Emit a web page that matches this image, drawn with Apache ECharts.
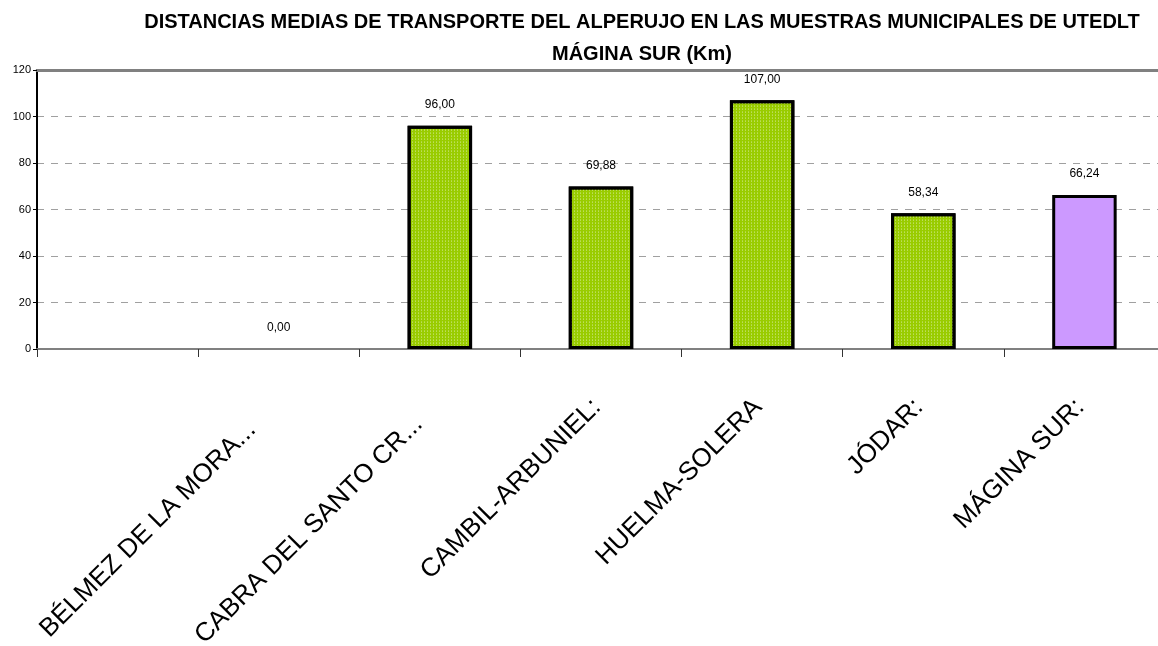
<!DOCTYPE html>
<html>
<head>
<meta charset="utf-8">
<script src="https://cdn.jsdelivr.net/npm/echarts@6/dist/echarts.min.js"></script>
<style>
html,body{margin:0;padding:0;background:#fff;}
#c{width:1158px;height:646px;}
</style>
</head>
<body>
<div id="c"></div>
<script>
const titleLines = ["DISTANCIAS MEDIAS DE TRANSPORTE DEL ALPERUJO EN LAS MUESTRAS MUNICIPALES DE UTEDLT", "MÁGINA SUR (Km)"];
const categories = ["", "BÉLMEZ DE LA MORA...", "CABRA DEL SANTO CR...", "CAMBIL-ARBUNIEL:", "HUELMA-SOLERA", "JÓDAR:", "MÁGINA SUR:"];
const values = [null, 0.00, 96.00, 69.88, 107.00, 58.34, 66.24];
const yMin = 0, yMax = 120, yStep = 20;

// styling (not data)
const green = '#99cc00', purple = '#cc99ff';
const labelShift = [6, 38, 30, 6, 6, 6, 6];
const dots = {
  symbol: 'circle', symbolSize: 0.5, color: 'rgba(255,255,255,0.8)',
  dashArrayX: [[3, 0]], dashArrayY: [2, 1], rotation: 0
};

const chart = echarts.init(document.getElementById('c'));
chart.setOption({
  animation: false,
  backgroundColor: '#fff',
  title: {
    text: titleLines.join('\n'),
    left: 637, top: 1, textAlign: 'center',
    textStyle: { fontFamily: 'Liberation Sans, Arial', fontWeight: 'bold', fontSize: 20, lineHeight: 32, color: '#000' }
  },
  grid: { left: 37, right: -7, top: 70, bottom: 297, containLabel: false, outerBoundsMode: 'none' },
  xAxis: [{
    type: 'category', position: 'bottom',
    data: categories.map((c, i) => ({ value: c, textStyle: { padding: [0, labelShift[i], 0, 0] } })),
    axisLine: { show: true, lineStyle: { color: '#808080', width: 2 } },
    axisTick: { show: true, length: 8, lineStyle: { color: '#333', width: 1 }, alignWithLabel: false },
    axisLabel: { interval: 0, rotate: 45, margin: 50, fontFamily: 'Liberation Sans, Arial', fontSize: 26, color: '#000', hideOverlap: false },
    splitLine: { show: false }
  }, {
    type: 'category', data: categories, position: 'top',
    axisLine: { show: true, lineStyle: { color: '#808080', width: 3 } },
    axisTick: { show: false }, axisLabel: { show: false }
  }],
  yAxis: {
    type: 'value', min: yMin, max: yMax, interval: yStep,
    axisLine: { show: true, lineStyle: { color: '#000', width: 2 } },
    axisTick: { show: true, length: 4, lineStyle: { color: '#000' } },
    axisLabel: { fontFamily: 'Liberation Sans, Arial', fontSize: 11, color: '#000', margin: 6 },
    splitLine: { show: true, lineStyle: { color: '#a0a0a0', type: [7, 7], width: 1 } }
  },
  series: [{
    type: 'bar', xAxisIndex: 0,
    data: values.map((v, i) => ({
      value: v,
      itemStyle: i === values.length - 1
        ? { color: purple, borderColor: '#000', borderWidth: 3 }
        : { color: green, borderColor: '#000', borderWidth: v === 0 ? 0 : 3, decal: dots }
    })),
    barWidth: '40%',
    label: {
      show: true, position: 'top', distance: 15,
      fontFamily: 'Liberation Sans, Arial', fontSize: 12, color: '#000',
      formatter: p => p.value == null ? '' : p.value.toFixed(2).replace('.', ',')
    }
  }]
});
</script>
</body>
</html>
